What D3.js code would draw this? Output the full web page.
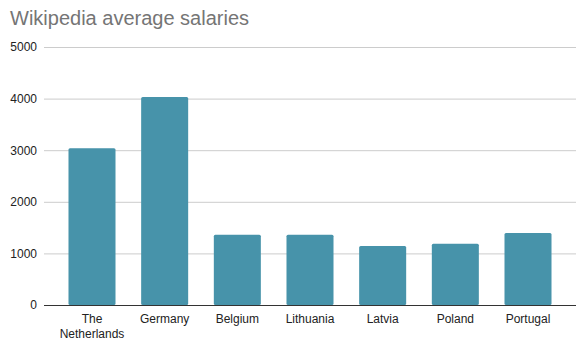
<!DOCTYPE html>
<html>
<head>
<meta charset="utf-8">
<script src="https://cdn.jsdelivr.net/npm/d3@7"></script>
<style>
  body { margin: 0; background: #fff; }
  text { font-family: "Liberation Sans", Arial, sans-serif; }
</style>
</head>
<body>
<div id="chart"></div>
<script>
// Chart data
const countries = ['The Netherlands', 'Germany', 'Belgium', 'Lithuania', 'Latvia', 'Poland', 'Portugal'];
const salaries = [3040, 4030, 1360, 1360, 1145, 1185, 1395];
const yTicks = [0, 1000, 2000, 3000, 4000, 5000];

const width = 585, height = 353;
const margin = { top: 47, right: 9, bottom: 48, left: 44 };

const svg = d3.select('#chart')
    .append('svg')
    .attr('width', width)
    .attr('height', height);

// Title
svg.append('text')
    .attr('x', 10)
    .attr('y', 25)
    .attr('fill', '#757575')
    .style('font-size', '20px')
    .text('Wikipedia average salaries');

const x = d3.scaleBand()
    .domain(countries)
    .range([margin.left, width - margin.right])
    .paddingInner(0.353)
    .paddingOuter(0.337);

const y = d3.scaleLinear()
    .domain([0, 5000])
    .range([height - margin.bottom, margin.top]);

// Gridlines + y labels
const yAxis = svg.append('g')
    .attr('transform', `translate(${margin.left},0)`)
    .call(d3.axisLeft(y)
        .tickValues(yTicks)
        .tickFormat(d3.format('d'))
        .tickSize(-(width - margin.left - margin.right))
        .tickPadding(7));
yAxis.select('.domain').remove();
yAxis.selectAll('.tick line').attr('stroke', '#cccccc');
yAxis.selectAll('.tick text').attr('fill', '#222').style('font-size', '12px');

// Bars
svg.append('g')
    .selectAll('rect')
    .data(salaries)
    .enter()
    .append('rect')
    .attr('x', (d, i) => x(countries[i]))
    .attr('y', d => y(d))
    .attr('width', x.bandwidth())
    .attr('height', d => y(0) - y(d))
    .attr('rx', 1.5)
    .attr('fill', '#4793aa');

// Baseline
svg.append('line')
    .attr('x1', margin.left)
    .attr('x2', width - margin.right)
    .attr('y1', y(0) + 0.5)
    .attr('y2', y(0) + 0.5)
    .attr('stroke', '#333')
    .attr('stroke-width', 1);

// Category labels, wrapped onto two lines where needed
const labels = svg.append('g')
    .selectAll('text')
    .data(countries)
    .enter()
    .append('text')
    .attr('text-anchor', 'middle')
    .attr('fill', '#222')
    .style('font-size', '12px');
labels.each(function(d) {
    const words = d === 'The Netherlands' ? ['The', 'Netherlands'] : [d];
    const cx = x(d) + x.bandwidth() / 2;
    words.forEach((w, k) => {
        d3.select(this).append('tspan')
            .attr('x', cx)
            .attr('y', y(0) + 18 + k * 15)
            .text(w);
    });
});
</script>
</body>
</html>
